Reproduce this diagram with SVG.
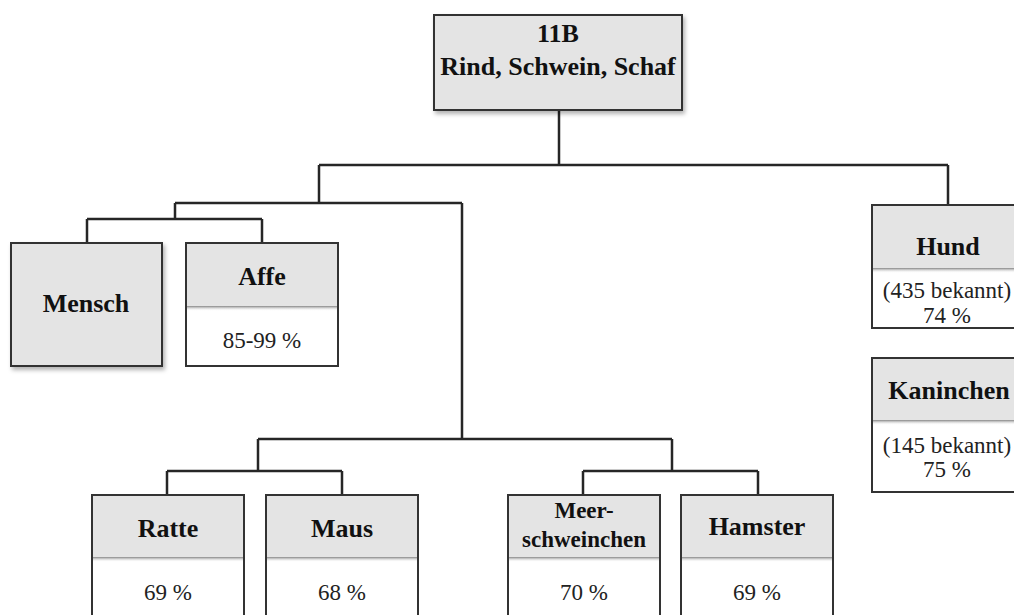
<svg xmlns="http://www.w3.org/2000/svg" width="1014" height="615" viewBox="0 0 1014 615">
<defs>
  <filter id="sh" x="-10%" y="-10%" width="130%" height="130%">
    <feDropShadow dx="2" dy="3" stdDeviation="2" flood-color="#000" flood-opacity="0.3"/>
  </filter>
  <linearGradient id="hs" x1="0" y1="0" x2="0" y2="1">
    <stop offset="0" stop-color="#777" stop-opacity="0.9"/>
    <stop offset="1" stop-color="#fff" stop-opacity="0"/>
  </linearGradient>
  <style>
    .box{fill:#fff;stroke:#333;stroke-width:2}
    .hdr{fill:#e4e4e4;stroke:none}
    .full{fill:#e4e4e4;stroke:#333;stroke-width:2}
    .b{font-family:"Liberation Serif","Times New Roman",serif;font-weight:bold;font-size:26px;fill:#111;text-anchor:middle}
    .r{font-family:"Liberation Serif","Times New Roman",serif;font-size:23px;fill:#222;text-anchor:middle}
    .con{fill:none;stroke:#262626;stroke-width:2.5}
  </style>
</defs>
<rect width="1014" height="615" fill="#fff"/>
<g id="connectors" class="con">
  <path d="M559,110 V165 M319,165 H948 M319,165 V203 M948,165 V205"/>
  <path d="M175,203 H462 M175,203 V219 M87,219 H262 M87,219 V243 M262,219 V243"/>
  <path d="M462,203 V439 M258,439 H672 M258,439 V471 M167,471 H342 M167,471 V495 M342,471 V495"/>
  <path d="M672,439 V471 M583,471 H758 M583,471 V495 M758,471 V495"/>
</g>
<g id="root">
  <rect class="full" x="434" y="15" width="248" height="95" filter="url(#sh)"/>
  <text class="b" x="558" y="42">11B</text>
  <text class="b" x="558" y="75">Rind, Schwein, Schaf</text>
</g>
<g id="mensch">
  <rect class="full" x="11" y="243" width="151" height="123" filter="url(#sh)"/>
  <text class="b" x="86" y="312">Mensch</text>
</g>
<g id="affe">
  <rect class="box" x="186" y="243" width="152" height="123"/>
  <rect class="hdr" x="187" y="244" width="150" height="62"/>
  <rect x="187" y="306" width="150" height="5" fill="url(#hs)"/>
  <text class="b" x="262" y="285">Affe</text>
  <text class="r" x="262" y="348">85-99 %</text>
</g>
<g id="hund">
  <rect class="box" x="872" y="205" width="152" height="123"/>
  <rect class="hdr" x="873" y="206" width="150" height="62"/>
  <rect x="873" y="268" width="150" height="5" fill="url(#hs)"/>
  <text class="b" x="948" y="255">Hund</text>
  <text class="r" x="947" y="298">(435 bekannt)</text>
  <text class="r" x="947" y="323">74 %</text>
</g>
<g id="kaninchen">
  <rect class="box" x="872" y="358" width="152" height="134"/>
  <rect class="hdr" x="873" y="359" width="150" height="61"/>
  <rect x="873" y="420" width="150" height="5" fill="url(#hs)"/>
  <text class="b" x="949" y="399">Kaninchen</text>
  <text class="r" x="947" y="453">(145 bekannt)</text>
  <text class="r" x="947" y="477">75 %</text>
</g>
<g id="ratte">
  <rect class="box" x="92" y="495" width="152" height="140"/>
  <rect class="hdr" x="93" y="496" width="150" height="61"/>
  <rect x="93" y="557" width="150" height="5" fill="url(#hs)"/>
  <text class="b" x="168" y="537">Ratte</text>
  <text class="r" x="168" y="600">69 %</text>
</g>
<g id="maus">
  <rect class="box" x="266" y="495" width="152" height="140"/>
  <rect class="hdr" x="267" y="496" width="150" height="61"/>
  <rect x="267" y="557" width="150" height="5" fill="url(#hs)"/>
  <text class="b" x="342" y="537">Maus</text>
  <text class="r" x="342" y="600">68 %</text>
</g>
<g id="meerschweinchen">
  <rect class="box" x="508" y="495" width="152" height="140"/>
  <rect class="hdr" x="509" y="496" width="150" height="61"/>
  <rect x="509" y="557" width="150" height="5" fill="url(#hs)"/>
  <text class="b" x="584" y="518" style="font-size:23px">Meer-</text>
  <text class="b" x="584" y="547" style="font-size:23px">schweinchen</text>
  <text class="r" x="584" y="600">70 %</text>
</g>
<g id="hamster">
  <rect class="box" x="681" y="495" width="152" height="140"/>
  <rect class="hdr" x="682" y="496" width="150" height="61"/>
  <rect x="682" y="557" width="150" height="5" fill="url(#hs)"/>
  <text class="b" x="757" y="535">Hamster</text>
  <text class="r" x="757" y="600">69 %</text>
</g>
</svg>
